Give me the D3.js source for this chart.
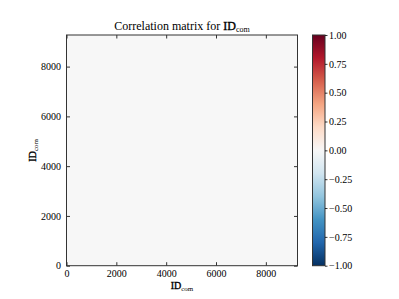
<!DOCTYPE html>
<html>
<head>
<meta charset="utf-8">
<script src="https://cdn.jsdelivr.net/npm/d3@7"></script>
<style>
  body { margin: 0; background: #fff; }
  text { font-family: "Liberation Serif", "DejaVu Serif", serif; fill: #000; }
</style>
</head>
<body>
<div class="canvas"></div>
<script>
// data
const nIds = 9270;                       // number of community IDs (axis extent)
const blockEdges = [0, nIds];            // matrix drawn as blocks between these edges
const corrGrid = [[0.0]];                // correlation value of each block (all ~0)
const idTicks = [0, 2000, 4000, 6000, 8000];
const cbTicks = [-1.00, -0.75, -0.50, -0.25, 0.00, 0.25, 0.50, 0.75, 1.00];
// RdBu_r colour stops (blue at -1, red at +1)
const rdbuStops = ['#053061', '#2166ac', '#4393c3', '#92c5de', '#d1e5f0', '#f7f7f7',
                   '#fddbc7', '#f4a582', '#d6604d', '#b2182b', '#67001f'];

const W = 399, H = 299;
const margin = { top: 35, left: 66.5 };
const graphWidth = 231;
const graphHeight = 230.7;

const svg = d3.select('.canvas')
  .append('svg')
  .attr('width', W)
  .attr('height', H);

const graph = svg.append('g')
  .attr('transform', `translate(${margin.left}, ${margin.top})`);

// scales
const x = d3.scaleLinear().domain([0, nIds]).range([0, graphWidth]);
const y = d3.scaleLinear().domain([0, nIds]).range([graphHeight, 0]);
const color = d3.scaleLinear()
  .domain(d3.range(rdbuStops.length).map(i => -1 + 2 * i / (rdbuStops.length - 1)))
  .range(rdbuStops);

// cells
const cells = [];
corrGrid.forEach((row, i) => row.forEach((v, j) => {
  cells.push({ x0: blockEdges[j], x1: blockEdges[j + 1], y0: blockEdges[i], y1: blockEdges[i + 1], v });
}));

graph.selectAll('rect.cell')
  .data(cells)
  .enter()
  .append('rect')
  .attr('class', 'cell')
  .attr('x', d => x(d.x0))
  .attr('y', d => y(d.y1))
  .attr('width', d => x(d.x1) - x(d.x0))
  .attr('height', d => y(d.y0) - y(d.y1))
  .attr('fill', d => color(d.v));

// axes (ticks inward, on all four sides)
const fs = '10px';
const styleAxis = (g, showLabels) => {
  g.select('.domain').remove();
  g.selectAll('line').attr('stroke', '#000').attr('stroke-width', 0.8);
  g.selectAll('text').style('font-size', fs);
  if (!showLabels) g.selectAll('text').remove();
};

graph.append('g')
  .attr('transform', `translate(0, ${graphHeight})`)
  .call(d3.axisBottom(x).tickValues(idTicks).tickSize(-3.5).tickPadding(6).tickFormat(d3.format('d')))
  .call(g => styleAxis(g, true))
  .call(g => g.selectAll('text').attr('dy', '0.55em'));

graph.append('g')
  .call(d3.axisTop(x).tickValues(idTicks).tickSize(-3.5))
  .call(g => styleAxis(g, false));

graph.append('g')
  .call(d3.axisLeft(y).tickValues(idTicks).tickSize(-3.5).tickPadding(5.5).tickFormat(d3.format('d')))
  .call(g => styleAxis(g, true));

graph.append('g')
  .attr('transform', `translate(${graphWidth}, 0)`)
  .call(d3.axisRight(y).tickValues(idTicks).tickSize(-3.5))
  .call(g => styleAxis(g, false));

// frame
graph.append('rect')
  .attr('width', graphWidth)
  .attr('height', graphHeight)
  .attr('fill', 'none')
  .attr('stroke', '#333')
  .attr('stroke-width', 1);

// title and axis labels with subscript
const idLabel = (sel, size, subSize) => {
  sel.append('tspan').text('ID').style('font-size', size)
    .attr('stroke', '#000').attr('stroke-width', 0.35);
  sel.append('tspan').text('com').style('font-size', subSize).attr('dy', '0.25em');
};

const title = svg.append('text')
  .attr('x', margin.left + graphWidth / 2)
  .attr('y', 30)
  .attr('text-anchor', 'middle')
  .style('font-size', '12px');
title.append('tspan').text('Correlation matrix for ');
idLabel(title, '12px', '8px');

const xl = svg.append('text')
  .attr('x', margin.left + graphWidth / 2)
  .attr('y', 289)
  .attr('text-anchor', 'middle')
  .style('font-size', '10px');
idLabel(xl, '10px', '7px');

const yl = svg.append('text')
  .attr('transform', `translate(36, ${margin.top + graphHeight / 2}) rotate(-90)`)
  .attr('text-anchor', 'middle')
  .style('font-size', '10px');
idLabel(yl, '10px', '7px');

// colorbar
const cbX = 312.5, cbW = 12.5;
const cb = svg.append('g').attr('transform', `translate(${cbX}, ${margin.top})`);
const cy = d3.scaleLinear().domain([-1, 1]).range([graphHeight, 0]);

const grad = svg.append('defs').append('linearGradient')
  .attr('id', 'cbgrad')
  .attr('x1', 0).attr('y1', 1).attr('x2', 0).attr('y2', 0);
grad.selectAll('stop')
  .data(d3.range(0, 1.0001, 0.025))
  .enter()
  .append('stop')
  .attr('offset', d => d)
  .attr('stop-color', d => color(d * 2 - 1));

cb.append('rect')
  .attr('width', cbW)
  .attr('height', graphHeight)
  .attr('fill', 'url(#cbgrad)')
  .attr('stroke', '#333')
  .attr('stroke-width', 1);

cb.append('g')
  .attr('transform', `translate(${cbW}, 0)`)
  .call(d3.axisRight(cy).tickValues(cbTicks).tickSize(2.5).tickPadding(1.5)
    .tickFormat(d => d3.format('.2f')(d).replace('-', '\u2212')))
  .call(g => styleAxis(g, true));
</script>
</body>
</html>
